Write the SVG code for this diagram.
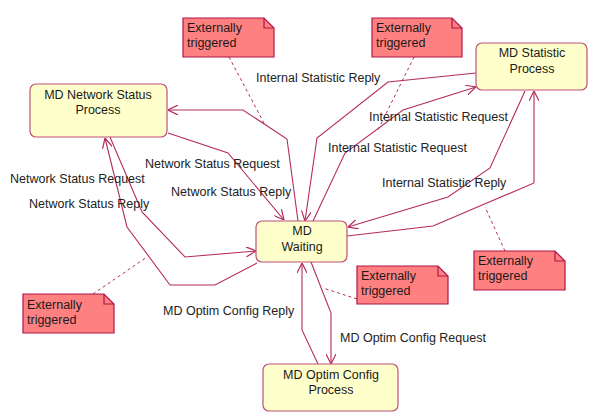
<svg xmlns="http://www.w3.org/2000/svg" width="590" height="412" viewBox="0 0 590 412">
<style>
.bg{fill:#ffffff}
.node{fill:#ffffcc;stroke:#c05078;stroke-width:1.2}
.note{fill:#ff8080;stroke:#b01448;stroke-width:1.2}
.fold{fill:none;stroke:#b01448;stroke-width:1.2}
.ntxt{font-family:"Liberation Sans",Arial,sans-serif;font-size:12.5px;fill:#1a1a1a;text-anchor:middle}
.ttxt{font-family:"Liberation Sans",Arial,sans-serif;font-size:12.5px;fill:#1a1a1a}
.lbl{font-family:"Liberation Sans",Arial,sans-serif;font-size:12.5px;fill:#222222}
.conn{fill:none;stroke:#b42c5c;stroke-width:1.1;marker-end:url(#arr)}
.dash{fill:none;stroke:#b42c5c;stroke-width:1;stroke-dasharray:3,3}
</style>
<defs>
<marker id="arr" markerUnits="userSpaceOnUse" viewBox="0 0 10 10" refX="10" refY="5" markerWidth="10" markerHeight="10" orient="auto">
<path d="M0,0 L10,5 L0,10" fill="none" stroke="#b42c5c" stroke-width="1.2"/>
</marker>
</defs>
<rect class="bg" x="0" y="0" width="590" height="412"/>

<g id="connectors">
<path class="conn" d="M298,221 L287,139 L243,110 L168,110"/>
<path class="conn" d="M168,133 L228,153 L284,220"/>
<path class="conn" d="M110,137 L142,212 L185,257 L256,251"/>
<path class="conn" d="M257,263 L215,285 L170,285 L127,227 L105,138"/>
<path class="conn" d="M476,73 L388,82 L317,138 L305,221"/>
<path class="conn" d="M313,221 L345,153 L403,110 L476,87"/>
<path class="conn" d="M525,91 L490,168 L448,197 L348,227"/>
<path class="conn" d="M347,236 L433,226 L534,183 L534,91"/>
<path class="conn" d="M311,262 L331,313 L331,364"/>
<path class="conn" d="M318,364 L302,330 L302,263"/>
<path class="dash" d="M229,57 L265,125"/>
<path class="dash" d="M414,57 L377,132"/>
<path class="dash" d="M93,294 L147,257"/>
<path class="dash" d="M357,299 L323,288"/>
<path class="dash" d="M505,251 L485,207"/>
</g>

<g id="labels">
<text class="lbl" x="256" y="82">Internal Statistic Reply</text>
<text class="lbl" x="369" y="121">Internal Statistic Request</text>
<text class="lbl" x="328" y="152">Internal Statistic Request</text>
<text class="lbl" x="382" y="187">Internal Statistic Reply</text>
<text class="lbl" x="145" y="168">Network Status Request</text>
<text class="lbl" x="171" y="196">Network Status Reply</text>
<text class="lbl" x="10" y="183">Network Status Request</text>
<text class="lbl" x="29" y="208">Network Status Reply</text>
<text class="lbl" x="163" y="315">MD Optim Config Reply</text>
<text class="lbl" x="340" y="342">MD Optim Config Request</text>
</g>

<g id="node-network-status">
<rect class="node" x="30" y="84" width="137" height="53" rx="6"/>
<text class="ntxt" x="98" y="99">MD Network Status</text>
<text class="ntxt" x="98" y="114">Process</text>
</g>
<g id="node-statistic">
<rect class="node" x="476" y="43" width="111" height="47" rx="6"/>
<text class="ntxt" x="532" y="57">MD Statistic</text>
<text class="ntxt" x="532" y="73">Process</text>
</g>
<g id="node-waiting">
<rect class="node" x="256" y="221" width="91" height="41" rx="6"/>
<text class="ntxt" x="302" y="235">MD</text>
<text class="ntxt" x="302" y="251">Waiting</text>
</g>
<g id="node-optim">
<rect class="node" x="263" y="364" width="135" height="47" rx="6"/>
<text class="ntxt" x="331" y="379">MD Optim Config</text>
<text class="ntxt" x="331" y="394">Process</text>
</g>

<g id="note-1">
<path class="note" d="M183,18 H264 L274,28 V57 H183 Z"/>
<path class="fold" d="M264,18 V28 H274"/>
<text class="ttxt" x="187" y="32">Externally</text>
<text class="ttxt" x="187" y="47">triggered</text>
</g>
<g id="note-2">
<path class="note" d="M372,18 H452 L462,28 V57 H372 Z"/>
<path class="fold" d="M452,18 V28 H462"/>
<text class="ttxt" x="376" y="32">Externally</text>
<text class="ttxt" x="376" y="47">triggered</text>
</g>
<g id="note-3">
<path class="note" d="M23,294 H104 L114,304 V333 H23 Z"/>
<path class="fold" d="M104,294 V304 H114"/>
<text class="ttxt" x="27" y="309">Externally</text>
<text class="ttxt" x="27" y="324">triggered</text>
</g>
<g id="note-4">
<path class="note" d="M357,266 H438 L448,276 V304 H357 Z"/>
<path class="fold" d="M438,266 V276 H448"/>
<text class="ttxt" x="361" y="280">Externally</text>
<text class="ttxt" x="361" y="295">triggered</text>
</g>
<g id="note-5">
<path class="note" d="M474,251 H555 L565,261 V290 H474 Z"/>
<path class="fold" d="M555,251 V261 H565"/>
<text class="ttxt" x="478" y="265">Externally</text>
<text class="ttxt" x="478" y="280">triggered</text>
</g>
</svg>
